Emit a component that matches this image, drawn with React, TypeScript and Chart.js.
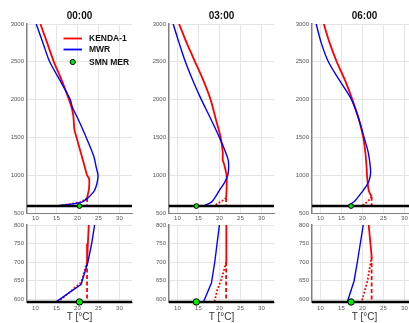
import React, { useEffect, useRef } from "react";
import { Chart, registerables } from "chart.js";

Chart.register(...registerables);

const FONT = "'Liberation Sans', Arial, Helvetica, sans-serif";

const TIMES = ["00:00", "03:00", "06:00"];
const GROUND = 592;
const X_MIN = 8;
const X_MAX = 33;
const X_TICKS = [10, 15, 20, 25, 30];
const TOP_Y_TICKS = [500, 1000, 1500, 2000, 2500, 3000];
const BOTTOM_Y_TICKS = [600, 650, 700, 750, 800];

// 00:00
const K00_H = [3000, 2750, 2500, 2250, 2000, 1900, 1800, 1600, 1500, 1300, 1200, 1100, 1000, 950, 850, 800, 750, 700];
const K00_T = [11.2, 12.8, 14.4, 16.3, 18.0, 18.6, 19.0, 19.3, 19.8, 20.8, 21.3, 21.8, 22.3, 22.8, 22.8, 22.7, 22.5, 22.3];
const KD00_H = [700, 592];
const KD00_T = [22.3, 22.3];
const KP00_H = [700, 645, 594];
const KP00_T = [22.3, 20.9, 15.6];
const M00_H = [3000, 2750, 2500, 2250, 2000, 1900, 1750, 1500, 1250, 1100, 1000, 900, 800, 750, 700, 640, 593];
const M00_T = [10.2, 11.8, 13.4, 15.9, 18.3, 18.8, 20.1, 22.1, 23.9, 24.5, 24.9, 24.7, 24.1, 23.4, 22.5, 20.9, 15.0];

// 03:00
const K03_H = [3000, 2750, 2600, 2500, 2250, 2000, 1750, 1500, 1300, 1200, 1150, 1000, 800, 700];
const K03_T = [10.4, 12.2, 13.4, 14.2, 16.2, 17.9, 19.1, 20.3, 20.8, 20.8, 21.1, 21.7, 21.7, 21.6];
const KD03_H = [700, 592];
const KD03_T = [21.6, 21.6];
const KP03_H = [700, 670, 648, 625, 592];
const KP03_T = [21.6, 20.9, 20.3, 19.5, 18.8];
const M03_H = [3000, 2750, 2500, 2250, 2000, 1750, 1500, 1300, 1200, 1100, 1000, 900, 800, 700, 643, 592];
const M03_T = [9.0, 10.4, 11.9, 13.7, 15.7, 17.9, 20.0, 21.5, 22.1, 22.2, 22.0, 21.2, 20.0, 18.9, 18.1, 16.2];

// 06:00
const K06_H = [3000, 2750, 2500, 2250, 2000, 1750, 1500, 1300, 1100, 1000, 800, 715];
const K06_T = [10.8, 12.2, 13.9, 15.9, 17.6, 19.1, 20.2, 20.7, 21.0, 21.1, 21.5, 22.2];
const KD06_H = [715, 592];
const KD06_T = [22.2, 22.2];
const KP06_H = [715, 648, 592];
const KP06_T = [22.2, 21.2, 19.8];
const M06_H = [3000, 2750, 2500, 2250, 2000, 1750, 1500, 1300, 1100, 1000, 900, 800, 700, 648, 592];
const M06_T = [9.0, 10.2, 11.9, 14.6, 17.4, 19.1, 20.4, 21.4, 21.9, 21.9, 21.4, 20.2, 18.8, 18.0, 16.4];

const SMN_T = [20.5, 14.5, 17.3];

const SERIES = [
  { kH: K00_H, kT: K00_T, kdH: KD00_H, kdT: KD00_T, kpH: KP00_H, kpT: KP00_T, mH: M00_H, mT: M00_T },
  { kH: K03_H, kT: K03_T, kdH: KD03_H, kdT: KD03_T, kpH: KP03_H, kpT: KP03_T, mH: M03_H, mT: M03_T },
  { kH: K06_H, kT: K06_T, kdH: KD06_H, kdT: KD06_T, kpH: KP06_H, kpT: KP06_T, mH: M06_H, mT: M06_T },
];

const PANEL_LEFT = [27, 169, 312];

const pts = (h: number[], t: number[]) => h.map((y, j) => ({ x: t[j], y }));

const legendPlugin = {
  id: "insideLegend",
  afterDraw(chart: any) {
    const ctx = chart.ctx;
    const a = chart.chartArea;
    const find = (l: string) => chart.data.datasets.find((d: any) => d.label === l);
    const rows = [
      { ds: find("KENDA-1"), kind: "line", y: a.top + 14.5 },
      { ds: find("MWR"), kind: "line", y: a.top + 25.5 },
      { ds: find("SMN MER"), kind: "dot", y: a.top + 38 },
    ];
    const x0 = a.left + 36.5;
    const x1 = a.left + 55;
    const tx = a.left + 62;
    ctx.save();
    ctx.font = `bold 8.5px ${FONT}`;
    ctx.textBaseline = "middle";
    ctx.textAlign = "left";
    for (const r of rows) {
      if (!r.ds) continue;
      if (r.kind === "line") {
        ctx.strokeStyle = r.ds.borderColor;
        ctx.lineWidth = 1.8;
        ctx.beginPath();
        ctx.moveTo(x0, r.y);
        ctx.lineTo(x1, r.y);
        ctx.stroke();
      } else {
        ctx.fillStyle = r.ds.backgroundColor;
        ctx.strokeStyle = "#000";
        ctx.lineWidth = 1;
        ctx.beginPath();
        ctx.arc((x0 + x1) / 2, r.y, 2.6, 0, Math.PI * 2);
        ctx.fill();
        ctx.stroke();
      }
      ctx.fillStyle = "#111";
      ctx.fillText(r.ds.label, tx, r.y + 0.5);
    }
    ctx.restore();
  },
};

function makeConfig(i: number, top: boolean): any {
  const s = SERIES[i];
  const tension = top ? 0.3 : 0;
  const datasets = [
    {
      label: "SMN MER",
      data: [{ x: SMN_T[i], y: GROUND }],
      backgroundColor: "#00ee00",
      borderColor: "#000",
      borderWidth: 1,
      pointRadius: top ? 2.4 : 3.2,
      showLine: false,
      order: 0,
      clip: false,
    },
    {
      label: "ground",
      data: [{ x: X_MIN, y: GROUND }, { x: X_MAX, y: GROUND }],
      borderColor: "#000",
      borderWidth: 2.5,
      pointRadius: 0,
      showLine: true,
      order: 1,
      clip: false,
    },
    {
      label: "MWR",
      data: pts(s.mH, s.mT),
      borderColor: "#0000ff",
      backgroundColor: "#0000ff",
      borderWidth: 1.4,
      pointRadius: 0,
      showLine: true,
      tension,
      order: 2,
    },
    {
      label: "KENDA-1",
      data: pts(s.kH, s.kT),
      borderColor: "#ff0000",
      backgroundColor: "#ff0000",
      borderWidth: 1.8,
      pointRadius: 0,
      showLine: true,
      tension,
      order: 3,
    },
    {
      label: "KENDA-1 (dashed)",
      data: pts(s.kdH, s.kdT),
      borderColor: "#ff0000",
      borderWidth: 1.8,
      borderDash: [4, 2.5],
      pointRadius: 0,
      showLine: true,
      order: 4,
    },
    {
      label: "KENDA-1 (dotted)",
      data: pts(s.kpH, s.kpT),
      borderColor: "#ff0000",
      borderWidth: 1.8,
      borderDash: [1.8, 1.8],
      pointRadius: 0,
      showLine: true,
      tension: 0,
      order: 5,
    },
  ];

  const tickFont = { size: 6, family: FONT };
  const grid = { color: "#e4e4e4", lineWidth: 1, drawTicks: false };

  return {
    type: "scatter",
    data: { datasets },
    options: {
      responsive: false,
      animation: false,
      devicePixelRatio: 1,
      layout: { padding: { left: 0, right: 8, top: top ? 0 : 10, bottom: 0 } },
      plugins: {
        legend: { display: false },
        tooltip: { enabled: false },
        title: top
          ? {
              display: true,
              text: TIMES[i],
              fullSize: false,
              color: "#111",
              font: { size: 10, weight: "bold", family: FONT, lineHeight: 1.2 },
              padding: { top: 10, bottom: 2 },
            }
          : { display: false },
      },
      scales: {
        x: {
          type: "linear",
          min: X_MIN,
          max: X_MAX,
          afterBuildTicks: (sc: any) => {
            sc.ticks = X_TICKS.map((v) => ({ value: v }));
          },
          afterFit: (sc: any) => {
            sc.height = top ? 12 : 20.3;
          },
          grid,
          border: { display: true, color: "#808080", width: 1 },
          ticks: {
            padding: 2,
            font: tickFont,
            color: "#555",
            maxRotation: 0,
            autoSkip: false,
            callback: (v: any) => String(v),
          },
          title: top
            ? { display: false }
            : {
                display: true,
                text: "T [°C]",
                color: "#333",
                font: { size: 10, family: FONT, lineHeight: 1.2 },
                padding: { top: 0, bottom: 0 },
              },
        },
        y: {
          type: "linear",
          min: top ? 500 : 590,
          max: top ? 3000 : 800,
          afterBuildTicks: (sc: any) => {
            sc.ticks = (top ? TOP_Y_TICKS : BOTTOM_Y_TICKS).map((v) => ({ value: v }));
          },
          afterFit: (sc: any) => {
            sc.width = 27;
          },
          grid,
          border: { display: true, color: "#808080", width: 1.5 },
          ticks: {
            padding: 3,
            font: tickFont,
            color: "#555",
            autoSkip: false,
            callback: (v: any) => String(v),
          },
        },
      },
    },
    plugins: top && i === 0 ? [legendPlugin] : [],
  };
}

function Panel({ i, top }: { i: number; top: boolean }) {
  const ref = useRef<HTMLCanvasElement | null>(null);
  const width = 140;
  const height = top ? 225 : 108;
  const left = PANEL_LEFT[i] - 27;
  const tp = top ? 0 : 215;
  useEffect(() => {
    if (!ref.current) return;
    const chart = new Chart(ref.current, makeConfig(i, top));
    return () => chart.destroy();
  }, [i, top]);
  return (
    <canvas
      ref={ref}
      width={width}
      height={height}
      style={{ position: "absolute", left, top: tp, width, height }}
    />
  );
}

export default function App() {
  return (
    <div
      style={{
        position: "fixed",
        left: 0,
        top: 0,
        width: 409,
        height: 323,
        overflow: "hidden",
        background: "#fff",
      }}
    >
      {[0, 1, 2].map((i) => (
        <React.Fragment key={i}>
          <Panel i={i} top={true} />
          <Panel i={i} top={false} />
        </React.Fragment>
      ))}
    </div>
  );
}
